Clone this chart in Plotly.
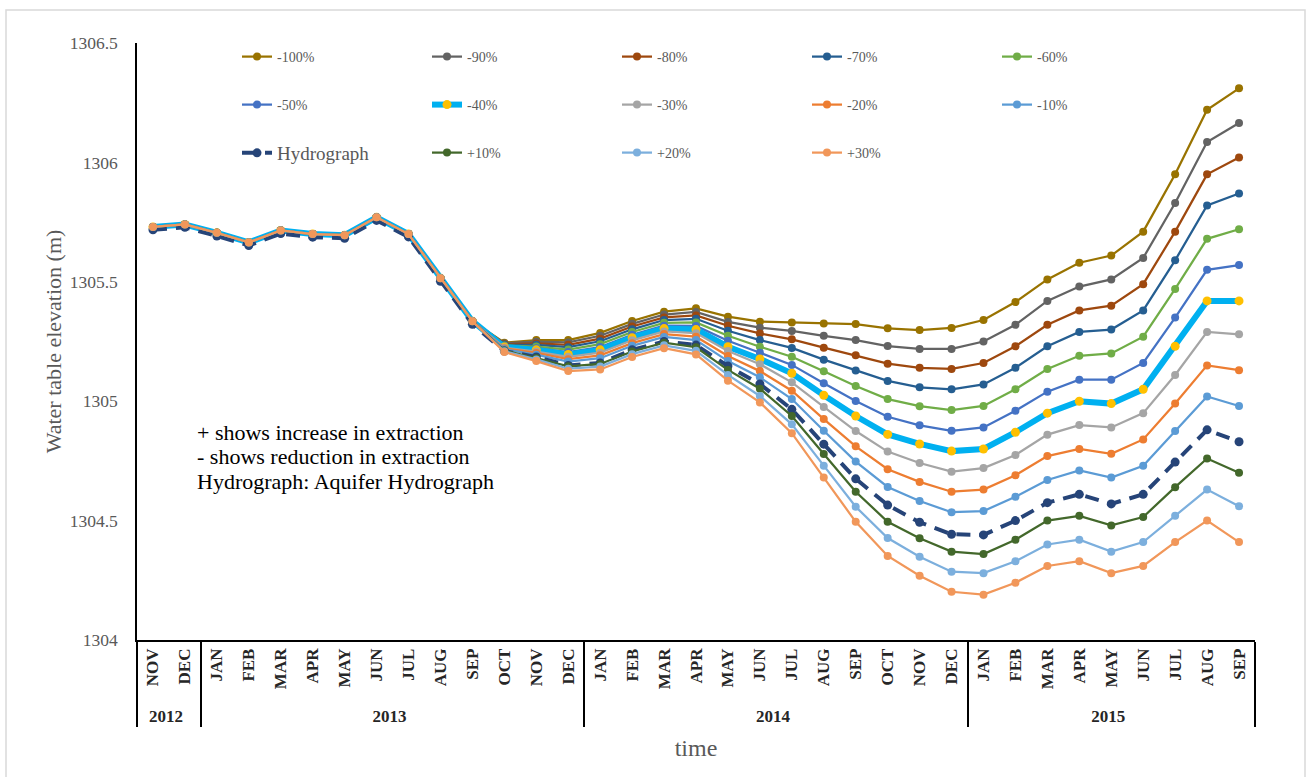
import plotly.graph_objects as go

# Category axis: months grouped by year. A zero-width space suffix keeps
# repeated month names distinct per year so the axis keeps time order.
ZW = "\u200b"
months = ["NOV", "DEC",
          "JAN" + ZW, "FEB" + ZW, "MAR" + ZW, "APR" + ZW, "MAY" + ZW, "JUN" + ZW,
          "JUL" + ZW, "AUG" + ZW, "SEP" + ZW, "OCT" + ZW, "NOV" + ZW, "DEC" + ZW,
          "JAN" + ZW * 2, "FEB" + ZW * 2, "MAR" + ZW * 2, "APR" + ZW * 2, "MAY" + ZW * 2, "JUN" + ZW * 2,
          "JUL" + ZW * 2, "AUG" + ZW * 2, "SEP" + ZW * 2, "OCT" + ZW * 2, "NOV" + ZW * 2, "DEC" + ZW * 2,
          "JAN", "FEB", "MAR", "APR", "MAY", "JUN", "JUL", "AUG", "SEP"]
years = ["2012", "2012",
         "2013", "2013", "2013", "2013", "2013", "2013", "2013", "2013", "2013", "2013", "2013", "2013",
         "2014", "2014", "2014", "2014", "2014", "2014", "2014", "2014", "2014", "2014", "2014", "2014",
         "2015", "2015", "2015", "2015", "2015", "2015", "2015", "2015", "2015"]

# Calibration period (Nov 2012 - Sep 2013), identical for all scenarios
calib = [1305.73, 1305.74, 1305.705, 1305.665, 1305.715, 1305.70, 1305.695, 1305.77, 1305.70, 1305.515, 1305.335]

# Water table elevation (m) per extraction scenario
m100 = calib + [1305.245, 1305.256, 1305.256, 1305.286, 1305.336, 1305.375, 1305.389, 1305.354, 1305.333, 1305.330, 1305.325, 1305.323, 1305.305, 1305.298, 1305.307,
                1305.34, 1305.415, 1305.51, 1305.58, 1305.61, 1305.71, 1305.95, 1306.22, 1306.31]
m90 = calib + [1305.242, 1305.249, 1305.246, 1305.274, 1305.324, 1305.363, 1305.374, 1305.332, 1305.308, 1305.294, 1305.274, 1305.256, 1305.231, 1305.219, 1305.219,
               1305.25, 1305.32, 1305.42, 1305.48, 1305.51, 1305.60, 1305.83, 1306.085, 1306.165]
m80 = calib + [1305.239, 1305.242, 1305.236, 1305.262, 1305.313, 1305.351, 1305.359, 1305.316, 1305.284, 1305.259, 1305.224, 1305.192, 1305.157, 1305.140, 1305.135,
               1305.16, 1305.23, 1305.32, 1305.38, 1305.40, 1305.49, 1305.71, 1305.95, 1306.02]
m70 = calib + [1305.236, 1305.236, 1305.226, 1305.251, 1305.301, 1305.340, 1305.345, 1305.295, 1305.256, 1305.223, 1305.174, 1305.129, 1305.085, 1305.058, 1305.050,
               1305.07, 1305.14, 1305.23, 1305.29, 1305.30, 1305.38, 1305.59, 1305.82, 1305.87]
m60 = calib + [1305.233, 1305.229, 1305.216, 1305.239, 1305.290, 1305.328, 1305.330, 1305.274, 1305.228, 1305.186, 1305.125, 1305.064, 1305.009, 1304.979, 1304.963,
               1304.98, 1305.05, 1305.135, 1305.19, 1305.20, 1305.27, 1305.47, 1305.68, 1305.72]
m50 = calib + [1305.230, 1305.222, 1305.206, 1305.227, 1305.278, 1305.316, 1305.315, 1305.253, 1305.203, 1305.152, 1305.075, 1305.001, 1304.935, 1304.899, 1304.876,
               1304.89, 1304.96, 1305.04, 1305.09, 1305.09, 1305.16, 1305.35, 1305.55, 1305.57]
m40 = calib + [1305.227, 1305.215, 1305.196, 1305.215, 1305.266, 1305.304, 1305.300, 1305.228, 1305.177, 1305.117, 1305.025, 1304.938, 1304.861, 1304.821, 1304.791,
               1304.80, 1304.87, 1304.95, 1305.00, 1304.99, 1305.05, 1305.23, 1305.42, 1305.42]
m30 = calib + [1305.224, 1305.208, 1305.186, 1305.203, 1305.255, 1305.292, 1305.285, 1305.210, 1305.155, 1305.079, 1304.976, 1304.875, 1304.789, 1304.741, 1304.705,
               1304.72, 1304.775, 1304.86, 1304.90, 1304.89, 1304.95, 1305.11, 1305.29, 1305.28]
m20 = calib + [1305.221, 1305.202, 1305.176, 1305.192, 1305.243, 1305.281, 1305.270, 1305.189, 1305.126, 1305.044, 1304.925, 1304.811, 1304.715, 1304.662, 1304.621,
               1304.63, 1304.69, 1304.77, 1304.80, 1304.78, 1304.84, 1304.99, 1305.15, 1305.13]
m10 = calib + [1305.218, 1305.195, 1305.166, 1305.180, 1305.232, 1305.269, 1305.256, 1305.168, 1305.100, 1305.009, 1304.876, 1304.747, 1304.641, 1304.582, 1304.535,
               1304.54, 1304.60, 1304.67, 1304.71, 1304.68, 1304.73, 1304.875, 1305.02, 1304.98]
hydrograph = [1305.718, 1305.728, 1305.692, 1305.652, 1305.702, 1305.687, 1305.682, 1305.757, 1305.688, 1305.502, 1305.322,
              1305.210, 1305.185, 1305.150, 1305.160, 1305.215, 1305.250, 1305.235, 1305.147, 1305.072, 1304.966, 1304.820, 1304.675, 1304.565, 1304.493, 1304.443,
              1304.44, 1304.50, 1304.575, 1304.61, 1304.57, 1304.61, 1304.745, 1304.88, 1304.83]
p10 = calib + [1305.212, 1305.181, 1305.146, 1305.156, 1305.208, 1305.245, 1305.226, 1305.131, 1305.052, 1304.938, 1304.779, 1304.621, 1304.495, 1304.426, 1304.370,
               1304.36, 1304.42, 1304.50, 1304.52, 1304.48, 1304.515, 1304.64, 1304.76, 1304.70]
p20 = calib + [1305.209, 1305.175, 1305.136, 1305.145, 1305.197, 1305.234, 1305.211, 1305.110, 1305.022, 1304.903, 1304.730, 1304.558, 1304.427, 1304.349, 1304.286,
               1304.28, 1304.33, 1304.40, 1304.42, 1304.37, 1304.41, 1304.52, 1304.63, 1304.56]
p30 = calib + [1305.206, 1305.168, 1305.126, 1305.133, 1305.185, 1305.222, 1305.196, 1305.086, 1304.995, 1304.866, 1304.680, 1304.495, 1304.352, 1304.269, 1304.202,
               1304.19, 1304.24, 1304.31, 1304.33, 1304.28, 1304.31, 1304.41, 1304.50, 1304.41]

series_names = ["-100%", "-90%", "-80%", "-70%", "-60%",
                "-50%", "-40%", "-30%", "-20%", "-10%",
                "Hydrograph", "+10%", "+20%", "+30%"]
series_values = [m100, m90, m80, m70, m60, m50, m40, m30, m20, m10, hydrograph, p10, p20, p30]
line_colors = ["#997300", "#636363", "#9E480E", "#255E91", "#70AD47",
               "#4472C4", "#00B0F0", "#A5A5A5", "#ED7D31", "#5B9BD5",
               "#264478", "#43682B", "#7CAFDD", "#F1975A"]
marker_colors = ["#997300", "#636363", "#9E480E", "#255E91", "#70AD47",
                 "#4472C4", "#FFC000", "#A5A5A5", "#ED7D31", "#5B9BD5",
                 "#264478", "#43682B", "#7CAFDD", "#F1975A"]
legend_slots = ["legend", "legend", "legend", "legend", "legend",
                "legend2", "legend2", "legend2", "legend2", "legend2",
                "legend3", "legend4", "legend4", "legend4"]
note_lines = ["+ shows increase in extraction",
              "- shows reduction in extraction",
              "Hydrograph: Aquifer Hydrograph"]

SERIF = "Liberation Serif, Times New Roman, serif"
GRAY = "#595959"

fig = go.Figure()
for name, vals, lc, mc, lg in zip(series_names, series_values, line_colors, marker_colors, legend_slots):
    width = 2.25
    size = 8
    dash = "solid"
    if name == "-40%":
        width = 6
        size = 9
    if name == "Hydrograph":
        width = 4
        size = 9
        dash = "14px,9px"
    fig.add_trace(go.Scatter(
        x=[years, months], y=vals, name=name, mode="lines+markers",
        line=dict(color=lc, width=width, dash=dash),
        marker=dict(color=mc, size=size, symbol="circle"),
        legend=lg,
    ))

legend_common = dict(orientation="h", xanchor="left", yanchor="middle",
                     entrywidth=145, entrywidthmode="pixels",
                     bgcolor="rgba(0,0,0,0)", traceorder="normal",
                     font=dict(family=SERIF, size=14, color=GRAY))

PL, PR, PT, PB = 137, 53, 43, 137
W, H = 1308, 777
pw, ph = W - PL - PR, H - PT - PB


def px_x(px):
    return (px - PL) / pw


def px_y(py):
    return (H - PB - py) / ph


annotations = []
for k, line in enumerate(note_lines):
    annotations.append(dict(
        xref="paper", yref="paper", x=px_x(195), y=px_y(432 + 24.5 * k),
        xanchor="left", yanchor="middle", align="left", showarrow=False,
        text=line, font=dict(family=SERIF, size=22, color="black"),
    ))

fig.update_layout(
    width=W, height=H,
    margin=dict(l=PL, r=PR, t=PT, b=PB),
    paper_bgcolor="white", plot_bgcolor="white",
    font=dict(family=SERIF, color=GRAY),
    legend=dict(legend_common, x=px_x(237), y=px_y(57)),
    legend2=dict(legend_common, x=px_x(237), y=px_y(105)),
    legend3=dict(legend_common, x=px_x(237), y=px_y(153),
                 font=dict(family=SERIF, size=19, color=GRAY)),
    legend4=dict(legend_common, x=px_x(427), y=px_y(153)),
    showlegend=True,
    xaxis=dict(
        type="multicategory",
        range=[-0.5, 34.5],
        showline=True, linecolor="black", linewidth=1.5,
        showgrid=False, ticks="",
        tickangle=-90,
        tickfont=dict(family=SERIF, size=17, color="#262626", weight="bold"),
        showdividers=True, dividercolor="black", dividerwidth=1.5,
        title=dict(text="time", font=dict(family=SERIF, size=24, color=GRAY), standoff=14),
    ),
    yaxis=dict(
        range=[1304, 1306.5], dtick=0.5, tickformat=".5~r",
        showline=True, linecolor="black", linewidth=1.5,
        showgrid=False, zeroline=False, ticks="",
        ticklabelstandoff=14,
        tickfont=dict(family=SERIF, size=17.5, color=GRAY),
        title=dict(text="Water table elevation (m)",
                   font=dict(family=SERIF, size=22, color=GRAY), standoff=2),
    ),
    annotations=annotations,
    shapes=[dict(
        type="rect", xref="paper", yref="paper", layer="below",
        x0=px_x(6), x1=px_x(1305), y0=px_y(790), y1=px_y(10),
        line=dict(color="#D9D9D9", width=1.5), fillcolor="rgba(0,0,0,0)",
    )],
)

fig.write_html("out.html")
